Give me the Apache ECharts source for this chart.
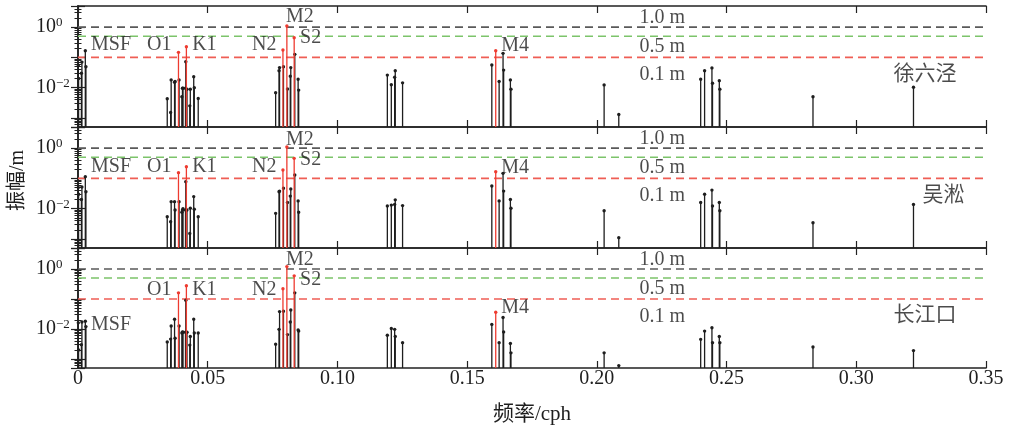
<!DOCTYPE html>
<html><head><meta charset="utf-8">
<script src="https://cdn.jsdelivr.net/npm/echarts@6/dist/echarts.min.js"></script>
<style>html,body{margin:0;padding:0;background:#fff}#c{width:1009px;height:429px}</style>
</head><body><div id="c"></div>
<script>
// ---------------- data ----------------
const constituents = ['SA','SSA','MSM','MM','MSF','MF',
  'ALP1','2Q1','SIG1','Q1','RHO1','O1','TAU1','BET1','NO1','CHI1','PI1','P1','K1','PHI1','THE1','J1','SO1','OO1','UPS1',
  'EPS2','2N2','MU2','N2','NU2','M2','MKS2','LDA2','L2','S2','K2','MSN2','ETA2',
  'MO3','M3','SO3','MK3','SK3',
  'MN4','M4','SN4','MS4','MK4','S4','SK4',
  '2MK5','2SK5',
  '2MN6','M6','2MS6','2MK6','2SM6','MSK6',
  '3MK7','M8'];
const frequencies = [0.000114,0.000228,0.00131,0.001512,0.002822,0.00305,
  0.0344,0.03571,0.03591,0.03722,0.03742,0.03873,0.03896,0.04004,0.04027,0.04047,0.04144,0.04155,0.04178,0.04201,0.04309,0.04329,0.04461,0.04483,0.04634,
  0.07618,0.07749,0.07769,0.079,0.0792,0.08051,0.08074,0.08182,0.08202,0.08333,0.08356,0.08485,0.08507,
  0.11924,0.12077,0.12206,0.12229,0.12511,
  0.15951,0.16102,0.16233,0.16384,0.16407,0.16667,0.16689,
  0.2028,0.20845,
  0.24002,0.24153,0.24436,0.24458,0.2472,0.24741,
  0.28331,0.32205];
const ampXuliujing = [0.055,0.02,0.03,0.07,0.166,0.049,
  0.0043,0.0015,0.018,0.015,0.016,0.147,0.018,0.005,0.0095,0.0095,0.0095,0.072,0.226,0.0088,0.0025,0.0088,0.023,0.010,0.0044,
  0.0068,0.036,0.046,0.175,0.049,1.09,0.009,0.024,0.046,0.448,0.126,0.019,0.0083,
  0.026,0.0124,0.022,0.036,0.0144,
  0.056,0.166,0.016,0.136,0.038,0.018,0.0089,
  0.0123,0.0013,
  0.019,0.036,0.045,0.014,0.017,0.0089,
  0.005,0.0103];
const ampWusong = [0.05,0.03,0.02,0.052,0.114,0.036,
  0.0054,0.0037,0.017,0.017,0.009,0.155,0.017,0.0076,0.009,0.010,0.009,0.078,0.244,0.009,0.0015,0.0103,0.025,0.0096,0.0054,
  0.007,0.036,0.038,0.19,0.047,1.09,0.016,0.026,0.045,0.46,0.13,0.018,0.0076,
  0.0123,0.0131,0.0137,0.0195,0.0126,
  0.056,0.166,0.018,0.147,0.038,0.020,0.0103,
  0.0085,0.0011,
  0.016,0.030,0.041,0.0123,0.016,0.0085,
  0.0034,0.0138];
const ampChangjiangkou = [0.016,0.002,0.003,0.017,0.018,0.012,
  0.0037,0.0046,0.0126,0.021,0.0049,0.16,0.0126,0.0073,0.008,0.0078,0.0078,0.091,0.277,0.0078,0.0029,0.0056,0.021,0.0073,0.0073,
  0.0031,0.0097,0.038,0.22,0.039,1.2,0.0065,0.017,0.043,0.59,0.16,0.0093,0.0085,
  0.0062,0.0104,0.0097,0.0056,0.0035,
  0.0142,0.036,0.0035,0.024,0.008,0.0033,0.0016,
  0.0016,0.0006,
  0.0045,0.0085,0.011,0.0035,0.0056,0.0035,
  0.0025,0.0019];
const stations = ['徐六泾','吴淞','长江口'];
const majorConstituents = ['O1','K1','N2','M2','S2','M4'];
const refLevels = [1.0, 0.5, 0.1];
const refLabels = ['1.0 m','0.5 m','0.1 m'];
const xTickValues = [0,0.05,0.10,0.15,0.20,0.25,0.30,0.35];
const yRange = [0.0005, 5];

// ---------------- layout (annotation anchors, data coords) ----------------
const constituentLabelPos = [ // [text, x, [y panel1, y panel2, y panel3]]
  ['MSF', 0.0050, [0.257, 0.238, 0.0143]],
  ['O1',  0.0266, [0.257, 0.238, 0.205]],
  ['K1',  0.0440, [0.257, 0.238, 0.205]],
  ['N2',  0.0671, [0.257, 0.238, 0.205]],
  ['M2',  0.0802, [2.25, 1.9, 2.0]],
  ['S2',  0.0856, [0.43, 0.41, 0.43]],
  ['M4',  0.1631, [0.238, 0.23, 0.051]]
];
const refLabelPos = { x: 0.2164, y: [2.0, 0.22, 0.026] };
const stationLabelPos = { x: [0.3143, 0.3255, 0.3143], y: 0.028 };

// ---------------- styles ----------------
const SERIF = '"Liberation Serif","Noto Sans CJK SC",serif';
const TXT = '#1e1e1e';
const STEM_BLACK = '#1e1e1e', STEM_RED = '#ee3b30';
const REF_COLORS = ['#5a5a5a', '#7cc46a', '#ef5e55'];
const AXIS_COL = '#222';

const ampsByStation = [ampXuliujing, ampWusong, ampChangjiangkou];
const gridTops = [6, 127, 248], gridHeights = [121, 121, 120];

const chart = echarts.init(document.getElementById('c'), null, {renderer: 'canvas'});

const grids = gridTops.map((t, i) => ({left: 78, right: 23, top: t, height: gridHeights[i]}));

function makeX(i, pos) {
  const bottomLabels = pos === 'bottom' && i === 2;
  return {
    type: 'value', gridIndex: i, position: pos, min: 0, max: 0.35, interval: 0.05,
    axisLine: {show: true, onZero: false, lineStyle: {color: AXIS_COL, width: 1.6}},
    axisTick: {show: true, inside: true, length: 7, lineStyle: {color: AXIS_COL, width: 1.2}},
    axisLabel: {show: bottomLabels, margin: 1, color: TXT, fontSize: 20, fontFamily: SERIF,
      formatter: v => (Math.abs(v) < 1e-9 ? '0' : v.toFixed(2))},
    splitLine: {show: false},
    name: bottomLabels ? '频率/cph' : '', nameLocation: 'middle', nameGap: 36,
    nameTextStyle: {fontSize: 21, fontFamily: SERIF, color: TXT}
  };
}
function makeY(i, pos) {
  return {
    type: 'log', logBase: 10, gridIndex: i, position: pos, min: yRange[0], max: yRange[1],
    axisLine: {show: true, lineStyle: {color: AXIS_COL, width: 1.6}},
    axisTick: {show: true, inside: true, length: 7, lineStyle: {color: AXIS_COL, width: 1.2}},
    minorTick: {show: true, splitNumber: 9, length: 3.5, lineStyle: {color: AXIS_COL, width: 1}},
    splitLine: {show: false}, minorSplitLine: {show: false},
    axisLabel: {
      show: pos === 'left', align: 'left', margin: 42, color: TXT,
      formatter: v => {
        const lg = Math.log10(v), e = Math.round(lg);
        if (Math.abs(lg - e) > 1e-6) return '';
        if (e === 0) return '{b|10}{s|0}';
        if (e === -2) return '{b|10}{s|\u22122}';
        return '';
      },
      rich: {
        b: {fontSize: 20, fontFamily: SERIF, color: TXT, lineHeight: 22},
        s: {fontSize: 13, fontFamily: SERIF, color: TXT, lineHeight: 13, verticalAlign: 'top'}
      }
    }
  };
}

const xAxes = [0,1,2].map(i => makeX(i, 'bottom')).concat([0,1,2].map(i => makeX(i, 'top')));
const yAxes = [0,1,2].map(i => makeY(i, 'left')).concat([0,1,2].map(i => makeY(i, 'right')));

function stemRender(color) {
  return function (params, api) {
    const x = api.value(0), v = api.value(1);
    const top = api.coord([x, v]);
    const cs = params.coordSys;
    const baseY = cs.y + cs.height;
    return {
      type: 'group',
      children: [
        {type: 'line', shape: {x1: top[0], y1: baseY, x2: top[0], y2: top[1]},
          style: {stroke: color, lineWidth: 1.3}},
        {type: 'circle', shape: {cx: top[0], cy: top[1], r: 1.7}, style: {fill: color}}
      ]
    };
  };
}

const series = [];
for (let p = 0; p < 3; p++) {
  const amps = ampsByStation[p];
  // reference dashed lines
  refLevels.forEach((lv, k) => {
    series.push({
      type: 'line', xAxisIndex: p, yAxisIndex: p, silent: true, showSymbol: false, symbol: 'none',
      data: [[0, lv], [0.35, lv]], z: 1,
      lineStyle: {color: REF_COLORS[k], width: 1.6, type: [8, 5]}
    });
  });
  const black = [], red = [];
  constituents.forEach((nm, j) => {
    const item = {name: nm, value: [frequencies[j], amps[j]]};
    (majorConstituents.includes(nm) ? red : black).push(item);
  });
  series.push({type: 'custom', xAxisIndex: p, yAxisIndex: p, data: black, renderItem: stemRender(STEM_BLACK), z: 3, silent: true});
  series.push({type: 'custom', xAxisIndex: p, yAxisIndex: p, data: red, renderItem: stemRender(STEM_RED), z: 4, silent: true});
  // text annotations
  const ann = constituentLabelPos.map(a => ({name: a[0], value: [a[1], a[2][p]], fs: 20}));
  refLabels.forEach((t, k) => ann.push({name: t, value: [refLabelPos.x, refLabelPos.y[k]], fs: 20}));
  ann.push({name: stations[p], value: [stationLabelPos.x[p], stationLabelPos.y], fs: 21});
  series.push({
    type: 'scatter', xAxisIndex: p, yAxisIndex: p, symbolSize: 0, silent: true, z: 6,
    data: ann.map(a => ({name: a.name, value: a.value,
      label: {show: true, position: 'right', distance: 0, formatter: '{b}', color: TXT,
        fontSize: a.fs, fontFamily: SERIF}}))
  });
}

chart.setOption({
  animation: false,
  backgroundColor: '#fff',
  grid: grids,
  xAxis: xAxes,
  yAxis: yAxes,
  series: series,
  graphic: [{
    type: 'text', left: 8, top: 150, rotation: Math.PI / 2,
    style: {text: '振幅/m', fontSize: 20, fontFamily: SERIF, fill: TXT}
  }]
});
</script>
</body></html>
